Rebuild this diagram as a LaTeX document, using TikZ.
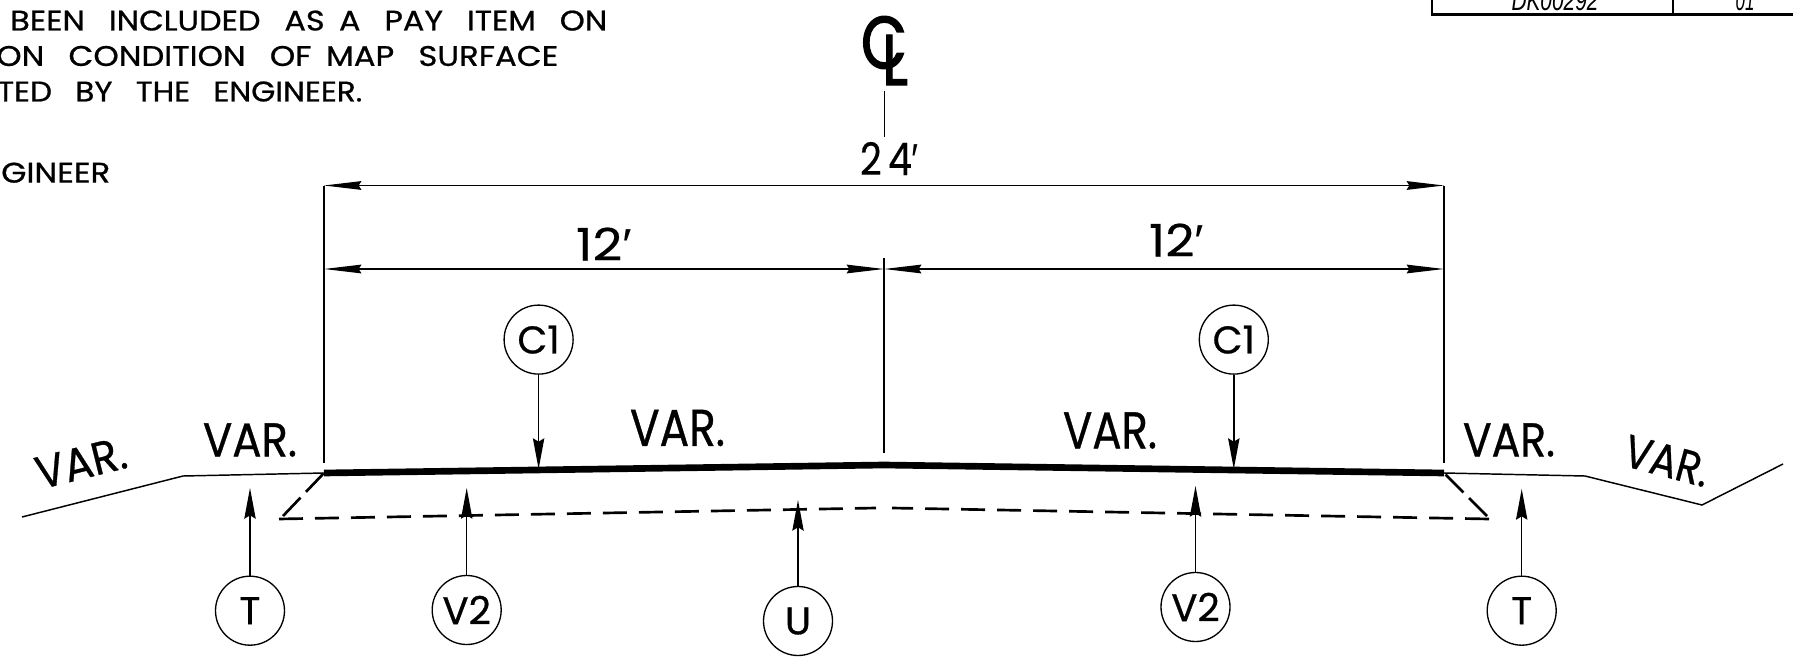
\documentclass[tikz,border=0pt]{standalone}
\usepackage{fontspec}
\usepackage{graphicx}
\setmainfont[FakeBold=0.7]{Poppins}
\newfontfamily\strongfont[FakeBold=2]{Poppins}
\newfontfamily\plainfont[FakeBold=0.4]{Poppins}
\newfontfamily\digitfont{Liberation Sans}
\usetikzlibrary{arrows.meta}
\newlength\pxu
\setlength\pxu{0.75pt}
\newcommand\fitbox[3]{\resizebox{#1\pxu}{#2\pxu}{#3}}
\newcommand\wsp{\hspace{0.45em}}
\newcommand\wwsp{\hspace{0.75em}}
\tikzset{
  thinline/.style={draw=black,line width=1.1pt},
  road/.style={draw=black,line width=5pt},
  sub/.style={draw=black,line width=2pt,dash pattern=on 18pt off 9pt},
  frameline/.style={draw=black,line width=2pt},
  callout/.style={circle,draw=black,line width=1pt,minimum size=51.75pt,inner sep=0pt,font=\fontsize{29}{29}\selectfont},
  txt/.style={inner sep=0pt,anchor=center},
  txtw/.style={inner sep=0pt,anchor=west},
  pointer/.style={thinline,-{Stealth[length=23pt,width=8.5pt,inset=2.5pt]}},
  dimarrow/.style={thinline,{Stealth[length=28pt,width=6.5pt,inset=2pt]}-{Stealth[length=28pt,width=6.5pt,inset=2pt]}}
}
\begin{document}
\begin{tikzpicture}[x=0.75pt,y=-0.75pt]
\useasboundingbox (0,0) rectangle (1793,660);
\clip (0,0) rectangle (1793,660);
% title-block remnant
\coordinate (tbTL) at (1432,-5);
\coordinate (tbBL) at (1432,14.5);
\coordinate (tbBR) at (1793,14.5);
\coordinate (tbM) at (1673,14.5);
\coordinate (tbMT) at (1673,-5);
\draw[frameline] (tbTL) -- (tbBL) -- (tbBR);
\draw[frameline] (tbMT) -- (tbM);
\node[txt,anchor=south] (dk) at (1555,11.5) {\fitbox{87}{20}{\digitfont\itshape DK00292}};
\node[txt,anchor=south] (zo) at (1745,11.5) {\fitbox{19}{20}{\digitfont\itshape 01}};
% notes
\node[txtw] (n1) at (10,20.6) {\fitbox{597}{20}{BEEN\wwsp INCLUDED\wwsp AS\wsp A\wwsp PAY\wwsp ITEM\wwsp ON}};
\node[txtw] (n2) at (-4,56) {\fitbox{562}{20}{ON\wwsp CONDITION\wwsp OF\wsp MAP\wwsp SURFACE}};
\node[txtw] (n3) at (-3,91.5) {\fitbox{365}{20}{TED\wwsp BY\wwsp THE\wwsp ENGINEER.}};
\node[txtw] (n4) at (1,172.7) {\fitbox{109}{20}{GINEER}};
% centre line symbol
\node[txt] (clC) at (884,42.5) {\fitbox{46}{52}{\strongfont C}};
\node[txt] (clL) at (895,60) {\fitbox{26}{50}{\strongfont L}};
% key points
\coordinate (rL) at (324,473);
\coordinate (rC) at (884,465);
\coordinate (rR) at (1444,473);
\coordinate (gL1) at (183,476);
\coordinate (gL2) at (22,517);
\coordinate (gR1) at (1585,476);
\coordinate (gR2) at (1702,505);
\coordinate (gR3) at (1783,464);
\coordinate (dTopL) at (884.5,91);
\coordinate (dTopLb) at (884.5,137);
\coordinate (a24L) at (324,185.5);
\coordinate (a24R) at (1444,185.5);
\coordinate (a12L) at (324,269);
\coordinate (a12C) at (884,269);
\coordinate (a12R) at (1444,269);
\coordinate (extLb) at (324,463);
\coordinate (extRb) at (1444,463);
\coordinate (cTop) at (884,258);
\coordinate (cBot) at (884,453);
\coordinate (sL) at (279,519);
\coordinate (sLc) at (876,508);
\coordinate (sR) at (1489,519);
\coordinate (sRc) at (892,508);
\coordinate (sLd) at (283,516);
\coordinate (sRd) at (1487,516);
% road and ground
\draw[road] (rL) -- (rC) -- (rR);
\draw[thinline,line join=miter] (rL) -- (gL1) -- (gL2);
\draw[thinline] (rR) -- (gR1) -- (gR2) -- (gR3);
% subgrade
\draw[sub] (sL) -- (sLc);
\draw[sub] (sR) -- (sRc);
\draw[sub,dash pattern=on 19pt off 6pt] (sLd) -- (rL);
\draw[sub,dash pattern=on 19pt off 6pt] (sRd) -- (rR);
% dimensions
\draw[thinline] (dTopL) -- (dTopLb);
\draw[thinline] (a24L) -- (extLb);
\draw[thinline] (a24R) -- (extRb);
\draw[thinline] (cTop) -- (cBot);
\draw[dimarrow] (a24L) -- (a24R);
\draw[dimarrow] (a12L) -- (a12C);
\draw[dimarrow] (a12C) -- (a12R);
\node[txt] (d24) at (889.5,158.5) {\fitbox{59}{33}{\plainfont 2\,4\digitfont ′}};
\node[txt] (d12a) at (604,244) {\fitbox{56}{33}{\plainfont 12\digitfont ′}};
\node[txt] (d12b) at (1176.5,240) {\fitbox{55}{33}{\plainfont 12\digitfont ′}};
% callouts
\node[callout] (c1a) at (538.6,339.6) {C1};
\node[callout] (c1b) at (1233.8,339.6) {C1};
\node[callout] (ta) at (250,610.7) {T};
\node[callout] (va) at (466.7,610) {V2};
\node[callout] (u) at (798,621) {U};
\node[callout] (vb) at (1195.5,607) {V2};
\node[callout] (tb) at (1521.7,610.7) {T};
\coordinate (tipC1a) at (538.6,469);
\coordinate (tipC1b) at (1233.8,469);
\coordinate (tipTa) at (250,488);
\coordinate (tipVa) at (466.7,488);
\coordinate (tipU) at (798,500);
\coordinate (tipVb) at (1195.5,486);
\coordinate (tipTb) at (1521.7,489);
\draw[pointer] (c1a) -- (tipC1a);
\draw[pointer] (c1b) -- (tipC1b);
\draw[pointer] (ta) -- (tipTa);
\draw[pointer] (va) -- (tipVa);
\draw[pointer] (u) -- (tipU);
\draw[pointer] (vb) -- (tipVb);
\draw[pointer] (tb) -- (tipTb);
% slope labels
\node[txt,rotate=14] (v1) at (81,463) {\fitbox{92}{32}{VAR.}};
\node[txt] (v2) at (250,440) {\fitbox{94}{33}{VAR.}};
\node[txt] (v3) at (677.5,428) {\fitbox{95}{36}{VAR.}};
\node[txt] (v4) at (1110,430.5) {\fitbox{94}{36}{VAR.}};
\node[txt] (v5) at (1509,440) {\fitbox{92}{33}{VAR.}};
\node[txt,rotate=-15] (v6) at (1667,461) {\fitbox{86}{32}{VAR.}};
\end{tikzpicture}
\end{document}
